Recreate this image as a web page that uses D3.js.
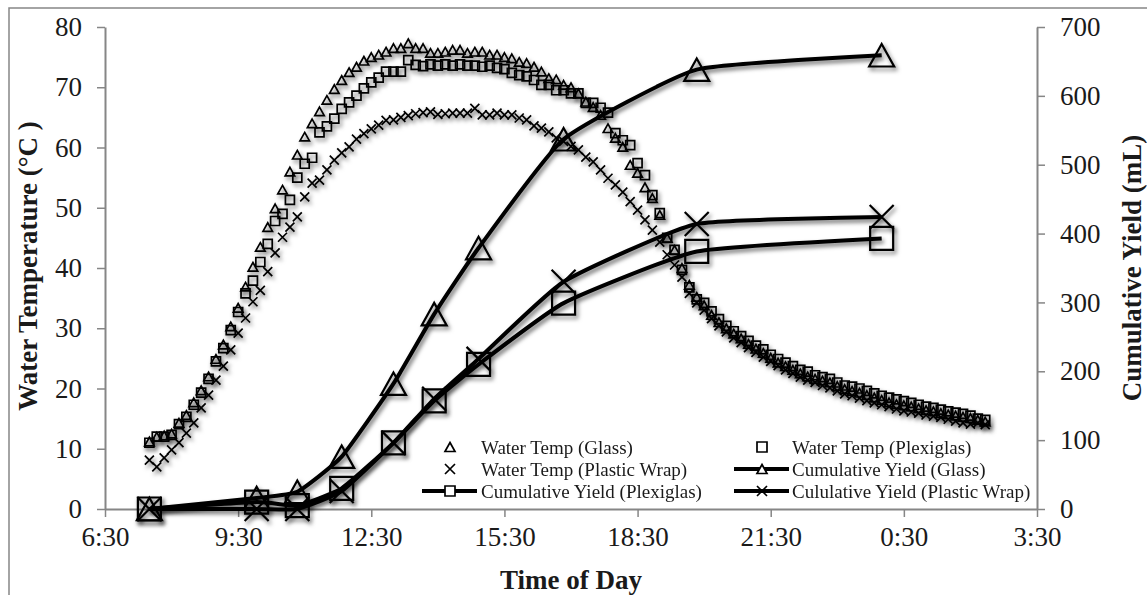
<!DOCTYPE html>
<html>
<head>
<meta charset="utf-8">
<script src="https://cdn.jsdelivr.net/npm/d3@7/dist/d3.min.js"></script>
<style>
  html, body { margin: 0; padding: 0; background: #fff; }
  svg { display: block; }
  text { font-family: "Liberation Serif", "Times New Roman", serif; fill: #1a1a1a; }
</style>
</head>
<body>
<svg id="chart" width="1147" height="595"></svg>
<script>
// ---------------- DATA ----------------
const xTickHours = [6.5, 9.5, 12.5, 15.5, 18.5, 21.5, 24.5, 27.5];
const xTickLabels = ["6:30", "9:30", "12:30", "15:30", "18:30", "21:30", "0:30", "3:30"];
const leftTicks = [0, 10, 20, 30, 40, 50, 60, 70, 80];
const rightTicks = [0, 100, 200, 300, 400, 500, 600, 700];

// Temperature readings every 10 minutes starting 7:30
const tempStartHour = 7.5;
const tempStepMinutes = 10;

const glassTemp = [11.2,12.0,12.2,12.5,14.3,15.6,17.7,19.7,22.0,24.9,
27.3,30.3,33.4,36.9,40.2,43.5,46.8,49.9,53.0,56.0,
58.8,61.8,64.0,66.0,67.9,69.7,71.2,72.5,73.4,74.4,
75.0,75.4,75.9,76.5,76.5,77.3,76.5,76.5,75.7,75.7,
75.9,76.2,76.2,75.7,75.9,75.9,75.4,75.4,75.0,74.8,
74.2,74.0,73.4,72.6,71.5,71.3,70.4,70.0,69.0,67.6,
66.7,65.4,63.2,61.6,60.1,57.1,55.8,53.4,51.6,48.8,
45.0,43.0,40.0,37.2,35.2,33.8,32.2,31.0,30.0,29.1,
28.3,27.4,26.6,25.9,25.1,24.3,23.7,23.1,22.5,22.0,
21.6,21.3,21.0,20.4,19.9,19.6,19.3,18.9,18.5,18.1,
17.7,17.4,17.2,17.0,16.7,16.4,16.2,15.9,15.7,15.5,
15.3,15.1,14.8,14.5];

const plexiTemp = [11.0,12.0,12.0,12.3,14.1,15.3,17.3,19.3,21.6,24.5,
26.7,29.7,32.7,35.8,37.9,41.0,44.0,47.8,49.0,51.3,
55.0,57.3,58.3,62.5,63.5,64.8,66.4,67.5,68.6,69.8,
70.8,71.6,72.6,72.6,72.6,74.5,73.7,73.5,73.8,73.6,
73.8,73.6,73.8,73.6,73.6,73.4,73.6,73.2,73.0,72.4,
72.0,71.8,71.2,70.4,70.4,69.5,69.5,69.0,69.0,67.4,
67.4,66.6,65.8,62.4,61.2,60.4,57.4,55.4,52.1,49.1,
45.0,43.0,39.7,36.8,34.8,34.2,32.8,31.5,30.4,29.5,
28.7,27.9,27.1,26.5,25.6,24.9,24.3,23.7,23.1,22.8,
22.2,21.9,21.6,21.0,20.5,20.3,20.0,19.6,19.2,18.8,
18.5,18.2,17.9,17.6,17.3,17.0,16.8,16.5,16.2,16.0,
15.8,15.5,15.0,14.8];

const plasticTemp = [8.1,7.0,8.5,9.8,11.0,12.6,14.3,16.8,18.9,21.4,
23.7,26.4,29.2,31.7,34.4,36.3,39.4,42.5,45.1,46.8,
48.5,51.8,54.1,54.6,56.3,57.9,59.1,60.1,61.4,62.3,
63.1,63.7,64.5,64.6,65.0,65.3,65.6,65.8,65.9,65.5,
65.6,65.7,65.7,65.7,66.5,65.4,65.4,65.7,65.4,65.4,
64.9,64.6,63.6,63.2,62.6,61.6,61.0,60.2,59.6,58.4,
57.6,56.3,54.9,53.8,52.6,51.0,49.6,48.0,46.3,44.3,
42.2,40.5,38.5,35.8,34.2,33.0,31.6,30.4,29.4,28.4,
27.6,26.8,26.0,25.2,24.5,23.8,23.1,22.5,21.9,21.4,
21.0,20.5,20.1,19.6,19.1,18.8,18.4,18.0,17.6,17.3,
17.0,16.6,16.3,16.1,15.9,15.6,15.4,15.2,14.9,14.6,
14.3,14.1,14.3,14.0];

// Cumulative yield sampling times (hours, 24 = midnight)
const yieldHours = [7.5, 9.917, 10.833, 11.833, 13.0, 13.917, 14.917, 16.833, 19.833, 24.0];
const glassYield   = [0, 16, 25, 76, 182, 283, 379, 537, 638, 659];
const plexiYield   = [0, 10, 5, 30, 96, 157, 210, 299, 374, 393];
const plasticYield = [0, 0, 0, 26, 96, 160, 218, 330, 414, 424];

const legendLabels = [
  "Water Temp (Glass)", "Water Temp (Plexiglas)",
  "Water Temp (Plastic Wrap)", "Cumulative Yield (Glass)",
  "Cumulative Yield (Plexiglas)", "Cululative Yield (Plastic Wrap)"
];

// ---------------- CHART ----------------
const svg = d3.select("#chart");
const axisColor = "#868686";

const defs = svg.append("defs");
const f = defs.append("filter").attr("id", "sh")
  .attr("x", "-30%").attr("y", "-30%").attr("width", "160%").attr("height", "160%");
f.append("feDropShadow").attr("dx", 2).attr("dy", 3).attr("stdDeviation", 2)
  .attr("flood-color", "#000").attr("flood-opacity", 0.55);

// outer frame
svg.append("rect").attr("x", 9).attr("y", 8).attr("width", 1150).attr("height", 600)
  .attr("fill", "none").attr("stroke", axisColor).attr("stroke-width", 1.5);

const x = d3.scaleLinear().domain([6.5, 27.5]).range([105, 1037]);
const yL = d3.scaleLinear().domain([0, 80]).range([509, 27]);
const yR = d3.scaleLinear().domain([0, 700]).range([509, 27]);

function styleAxis(g) {
  g.select(".domain").attr("stroke", axisColor).attr("stroke-width", 2);
  g.selectAll(".tick line").attr("stroke", axisColor).attr("stroke-width", 1.5);
  g.selectAll(".tick text").style("font-family", "Liberation Serif, serif")
    .style("font-size", "27px").attr("fill", "#1a1a1a");
}

svg.append("g").attr("transform", "translate(105,0)")
  .call(d3.axisLeft(yL).tickValues(leftTicks).tickSize(8).tickSizeOuter(0).tickPadding(15))
  .call(styleAxis);
svg.append("g").attr("transform", "translate(1037,0)")
  .call(d3.axisRight(yR).tickValues(rightTicks).tickSize(8).tickSizeOuter(0).tickPadding(15))
  .call(styleAxis);
svg.append("g").attr("transform", "translate(0,509)")
  .call(d3.axisBottom(x).tickValues(xTickHours).tickSize(8).tickSizeOuter(0).tickPadding(10)
    .tickFormat((d, i) => xTickLabels[i]))
  .call(styleAxis);

// axis titles
svg.append("text").attr("transform", "translate(37,266) rotate(-90)")
  .attr("text-anchor", "middle").style("font-weight", "bold").style("font-size", "27px")
  .text("Water Temperature (°C )");
svg.append("text").attr("transform", "translate(1141,268) rotate(-90)")
  .attr("text-anchor", "middle").style("font-weight", "bold").style("font-size", "27px")
  .text("Cumulative Yield (mL)");
svg.append("text").attr("x", 571).attr("y", 589)
  .attr("text-anchor", "middle").style("font-weight", "bold").style("font-size", "27px")
  .text("Time of Day");

// marker shapes
function triPath(s) { const h = s * 0.9; return `M0,${-h/2}L${s/2},${h/2}L${-s/2},${h/2}Z`; }
function sqPath(s) { return `M${-s/2},${-s/2}H${s/2}V${s/2}H${-s/2}Z`; }
function xPath(s) { return `M${-s/2},${-s/2}L${s/2},${s/2}M${s/2},${-s/2}L${-s/2},${s/2}`; }

const tempTimes = glassTemp.map((_, i) => tempStartHour + i * tempStepMinutes / 60);

function drawTemp(values, pathFn, size) {
  svg.append("g").attr("filter", "url(#sh)")
    .selectAll("path").data(values).join("path")
    .attr("transform", (d, i) => `translate(${x(tempTimes[i])},${yL(d)})`)
    .attr("d", pathFn(size))
    .attr("fill", "none").attr("stroke", "#000").attr("stroke-width", 1.7);
}
drawTemp(glassTemp, triPath, 9.5);
drawTemp(plexiTemp, sqPath, 9);
drawTemp(plasticTemp, xPath, 9);

const line = d3.line().x(d => x(d[0])).y(d => yR(d[1])).curve(d3.curveCardinal.tension(0.55));

function drawYield(values, pathFn, size) {
  const pts = values.map((v, i) => [yieldHours[i], v]);
  const g = svg.append("g").attr("filter", "url(#sh)");
  g.append("path").attr("d", line(pts)).attr("fill", "none")
    .attr("stroke", "#000").attr("stroke-width", 4).attr("stroke-linejoin", "round");
  g.selectAll("path.m").data(pts).join("path").attr("class", "m")
    .attr("transform", d => `translate(${x(d[0])},${yR(d[1])})`)
    .attr("d", pathFn(size))
    .attr("fill", "none").attr("stroke", "#000").attr("stroke-width", 2.2);
}
drawYield(glassYield, triPath, 25);
drawYield(plexiYield, sqPath, 23);
drawYield(plasticYield, xPath, 24);

// legend
const legendItems = [
  { col: 0, row: 0, shape: triPath, line: false },
  { col: 1, row: 0, shape: sqPath, line: false },
  { col: 0, row: 1, shape: xPath, line: false },
  { col: 1, row: 1, shape: triPath, line: true },
  { col: 0, row: 2, shape: sqPath, line: true },
  { col: 1, row: 2, shape: xPath, line: true }
];
const colMarkerX = [450, 762];
const colTextX = [481, 792];
const rowY = [447, 469, 491];
const lg = svg.append("g");
legendItems.forEach((it, k) => {
  const cx = colMarkerX[it.col], cy = rowY[it.row];
  if (it.line) {
    lg.append("line").attr("x1", cx - 28).attr("x2", cx + 27).attr("y1", cy).attr("y2", cy)
      .attr("stroke", "#000").attr("stroke-width", 4);
  }
  lg.append("path").attr("transform", `translate(${cx},${cy})`).attr("d", it.shape(10))
    .attr("fill", it.line ? "#fff" : "none").attr("stroke", "#000").attr("stroke-width", 1.7);
  lg.append("text").attr("x", colTextX[it.col]).attr("y", cy).attr("dy", "0.35em")
    .style("font-size", "19px").text(legendLabels[k]);
});
</script>
</body>
</html>
